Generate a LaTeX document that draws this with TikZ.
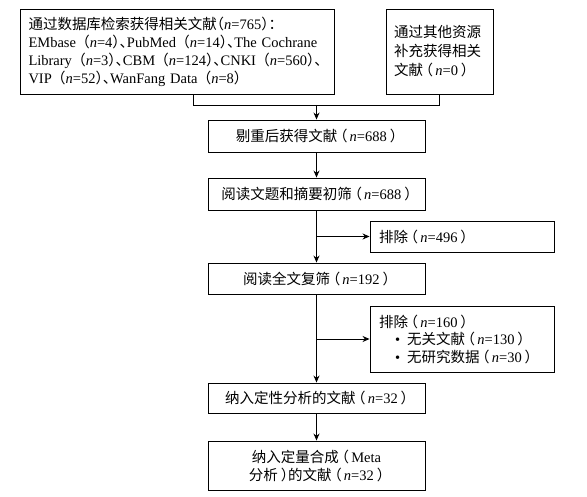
\documentclass[tikz,border=0pt]{standalone}
\usepackage{fontspec}
\setmainfont{Liberation Serif}
\newfontfamily\cjk[RawFeature=+halt]{Noto Sans CJK SC}
\usetikzlibrary{arrows.meta}
\newcommand\zhs[1]{{\cjk #1}}
\newcommand\nval[1]{\textit{n}=#1}
\newcommand\op{\hspace{0.45em}\zhs{（}}
\newcommand\lp{\hspace{0.2em}\zhs{（}\hspace{0.15em}}
\newcommand\rp{\hspace{0.2em}\zhs{）}}
\begin{document}
\begin{tikzpicture}[x=1pt,y=-1pt,
  box/.style={draw, line width=0.9pt, inner sep=0pt, font=\fontsize{14.5}{18}\selectfont},
  lbox/.style={box, align=left},
  cbox/.style={box, align=center, minimum width=217pt},
  conn/.style={line width=0.9pt},
  arr/.style={line width=0.9pt, -{Stealth[length=7pt,width=6pt]}}]
\useasboundingbox (0,0) rectangle (587,497);

\node[lbox, minimum width=314pt, minimum height=85pt, text width=297pt] (A) at (177,51.5)
 {\mbox{\zhs{通过数据库检索获得相关文献（}\nval{765}\zhs{）：}}\\
  \mbox{EMbase\op\nval{4}\zhs{）、}PubMed\op\nval{14}\zhs{）、}The Cochrane}\\
  \mbox{Library\op\nval{3}\zhs{）、}CBM\op\nval{124}\zhs{）、}CNKI\op\nval{560}\zhs{）、}}\\
  \mbox{VIP\op\nval{52}\zhs{）、}WanFang Data\op\nval{8}\zhs{）}}};

\node[lbox, minimum width=107pt, minimum height=85pt, text width=91pt] (B) at (439.5,51.5)
 {\zhs{通过其他资源}\\[1pt]\zhs{补充获得相关}\\[1pt]\zhs{文献}\lp\nval{0}\rp};

\node[cbox, minimum height=32pt] (C) at (316.5,136) {\zhs{剔重后获得文献}\lp\nval{688}\rp};
\node[cbox, minimum height=32pt] (D) at (316.5,194) {\zhs{阅读文题和摘要初筛}\lp\nval{688}\rp};
\node[lbox, minimum width=184pt, minimum height=31pt, text width=166pt] (E) at (462,236.5)
 {\zhs{排除}\lp\nval{496}\rp};
\node[cbox, minimum height=31pt] (F) at (316.5,278.5) {\zhs{阅读全文复筛}\lp\nval{192}\rp};
\node[lbox, minimum width=184pt, minimum height=66pt, text width=166pt] (G) at (462,339)
 {\zhs{排除}\lp\nval{160}\rp\\[-0.5pt]
  \hspace*{16pt}\textbullet\hspace{7pt}\zhs{无关文献}\lp\nval{130}\rp\\[-0.5pt]
  \hspace*{16pt}\textbullet\hspace{7pt}\zhs{无研究数据}\lp\nval{30}\rp};
\node[cbox, minimum height=30pt] (H) at (316.5,398) {\zhs{纳入定性分析的文献}\lp\nval{32}\rp};
\node[cbox, minimum height=49pt] (I) at (316.5,465.5)
 {\zhs{纳入定量合成}\lp Meta\\\zhs{分析}\rp\zhs{的文献}\lp\nval{32}\rp};

\coordinate (jA) at (193,105);
\coordinate (jB) at (439.5,105);
\coordinate (j) at (316.5,105);
\draw[conn] (A.south -| jA) -- (jA) -- (jB) -- (B.south);
\draw[arr] (j) -- (C.north);
\draw[arr] (C) -- (D);
\draw[arr] (D) -- (F);
\draw[arr] (D.south |- E.west) -- (E.west);
\draw[arr] (F) -- (H);
\draw[arr] (F.south |- G.west) -- (G.west);
\draw[arr] (H) -- (I);
\end{tikzpicture}
\end{document}
